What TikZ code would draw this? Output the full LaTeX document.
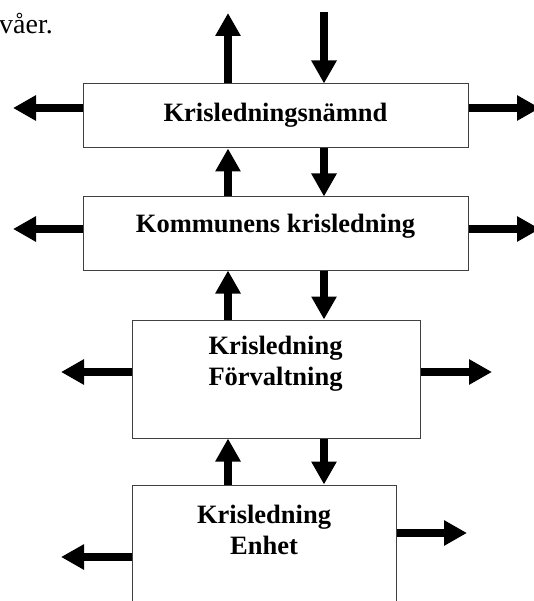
\documentclass[tikz,border=0pt]{standalone}
\usepackage{fontspec}
\setmainfont{Liberation Serif}
\usetikzlibrary{arrows.meta}
\begin{document}
\begin{tikzpicture}[x=1pt,y=-1pt,
  box/.style={draw=black!75,line width=1pt,fill=white,inner sep=0pt},
  lbl/.style={font=\fontsize{26.5}{31}\selectfont\bfseries,inner sep=0pt,anchor=base,align=center},
  arr/.style={line width=8.5pt,-{Triangle[width=24pt,length=23pt]}}]
\useasboundingbox (0,0) rectangle (534,601);
\clip (0,0) rectangle (534,601);
\node[font=\fontsize{28}{32}\selectfont,inner sep=0pt,anchor=base east] (cut) at (53,34) {våer.};
% boxes
\node[box,minimum width=385pt,minimum height=64pt] (b1) at (275.5,116) {};
\node[box,minimum width=385pt,minimum height=73pt] (b2) at (275.5,233.5) {};
\node[box,minimum width=288pt,minimum height=118pt] (b3) at (276,379) {};
\node[box,minimum width=264pt,minimum height=140pt] (b4) at (264,555) {};
% texts (base = last line)
\node[lbl] (t1) at (275.5,121.5) {Krisledningsnämnd};
\node[lbl] (t2) at (275.5,233) {Kommunens krisledning};
\node[lbl] (t3) at (275.5,385) {Krisledning\\Förvaltning};
\node[lbl] (t4) at (264,554) {Krisledning\\Enhet};
% columns and free ends
\coordinate (cu) at (228,0);
\coordinate (cd) at (324,0);
\coordinate (top1) at (228,13);
\coordinate (top2) at (324,12);
\coordinate (l1) at (13,108);
\coordinate (r1) at (540,108);
\coordinate (l2) at (13,229);
\coordinate (r2) at (540,229);
\coordinate (l3) at (61,372);
\coordinate (r3) at (492,372);
\coordinate (l4) at (61,557);
\coordinate (r4) at (467,533);
% vertical arrows
\draw[arr] (b1.north -| cu) -- (top1);
\draw[arr] (top2) -- (b1.north -| cd);
\draw[arr] (b2.north -| cu) -- (b1.south -| cu);
\draw[arr] (b1.south -| cd) -- (b2.north -| cd);
\draw[arr] (b3.north -| cu) -- (b2.south -| cu);
\draw[arr] (b2.south -| cd) -- (b3.north -| cd);
\draw[arr] (b4.north -| cu) -- (b3.south -| cu);
\draw[arr] (b3.south -| cd) -- (b4.north -| cd);
% side arrows
\draw[arr] (b1.west |- l1) -- (l1);
\draw[arr] (b1.east |- r1) -- (r1);
\draw[arr] (b2.west |- l2) -- (l2);
\draw[arr] (b2.east |- r2) -- (r2);
\draw[arr] (b3.west |- l3) -- (l3);
\draw[arr] (b3.east |- r3) -- (r3);
\draw[arr] (b4.west |- l4) -- (l4);
\draw[arr] (b4.east |- r4) -- (r4);
\end{tikzpicture}
\end{document}
